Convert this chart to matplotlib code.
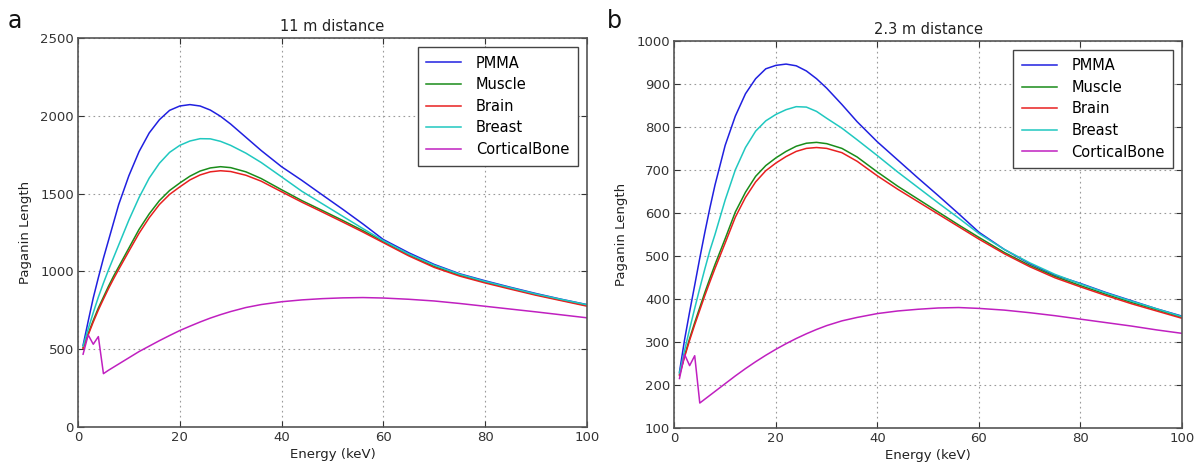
import matplotlib
matplotlib.use("Agg")
import matplotlib.pyplot as plt

energy = [1, 2, 3, 4, 5, 6, 7, 8, 10, 12, 14, 16, 18, 20, 22, 24, 26, 28, 30, 33,
          36, 40, 44, 48, 52, 56, 60, 65, 70, 75, 80, 85, 90, 95, 100]

# Panel a: 11 m distance
pmma_a = [525, 680, 830, 960, 1085, 1200, 1315, 1430, 1615, 1770, 1890, 1975, 2035, 2063, 2072, 2063, 2037, 1997, 1947, 1862,
          1777, 1673, 1585, 1492, 1400, 1305, 1205, 1120, 1045, 985, 940, 898, 858, 821, 787]
muscle_a = [510, 600, 685, 765, 835, 905, 970, 1030, 1150, 1270, 1370, 1455, 1520, 1568, 1612, 1645, 1665, 1673, 1667, 1640,
            1597, 1525, 1455, 1392, 1328, 1262, 1192, 1107, 1032, 976, 931, 891, 851, 816, 781]
brain_a = [505, 592, 675, 752, 822, 890, 953, 1013, 1130, 1245, 1345, 1430, 1495, 1543, 1588, 1620, 1640, 1647, 1642, 1618,
           1580, 1512, 1445, 1382, 1318, 1253, 1185, 1100, 1026, 970, 926, 886, 847, 812, 777]
breast_a = [520, 630, 735, 835, 925, 1010, 1090, 1170, 1330, 1475, 1600, 1695, 1765, 1810, 1838, 1853, 1852, 1836, 1810, 1760,
            1700, 1608, 1515, 1435, 1355, 1275, 1198, 1112, 1040, 982, 936, 895, 855, 820, 786]
bone_a = [468, 592, 532, 581, 343, 365, 385, 405, 445, 485, 520, 555, 588, 620, 648, 675, 700, 722, 742, 768,
          787, 805, 817, 825, 830, 832, 829, 821, 810, 794, 776, 758, 740, 721, 702]

# Panel b: 2.3 m distance
pmma_b = [230, 305, 370, 432, 495, 555, 612, 665, 757, 825, 877, 912, 935, 943, 946, 942, 930, 912, 890, 852,
          812, 765, 723, 681, 640, 598, 555, 515, 482, 455, 436, 415, 396, 377, 360]
muscle_b = [225, 268, 308, 345, 380, 415, 448, 480, 540, 602, 648, 685, 710, 728, 743, 755, 762, 764, 761, 750,
            730, 695, 662, 632, 602, 572, 543, 508, 478, 452, 431, 411, 392, 375, 357]
brain_b = [222, 265, 304, 340, 374, 408, 440, 471, 530, 590, 636, 672, 698, 716, 731, 743, 750, 752, 750, 740,
           720, 686, 655, 626, 597, 568, 539, 505, 475, 449, 428, 408, 389, 372, 355]
breast_b = [228, 280, 330, 378, 425, 470, 513, 550, 630, 700, 752, 790, 814, 829, 840, 847, 846, 836, 820, 797,
            770, 733, 695, 659, 623, 588, 552, 515, 484, 457, 435, 414, 395, 377, 359]
bone_b = [215, 271, 245, 268, 158, 167, 176, 185, 203, 221, 238, 254, 269, 283, 296, 308, 319, 329, 338, 349,
          357, 366, 372, 376, 379, 380, 378, 374, 368, 361, 353, 345, 337, 328, 320]

labels = ["PMMA", "Muscle", "Brain", "Breast", "CorticalBone"]
colors = ["#2020e0", "#1a8c1a", "#e82020", "#20c8c0", "#c020c0"]

plt.rcParams['font.family'] = ['DejaVu Sans']

fig = plt.figure(figsize=(12, 4.75), dpi=100)
ax_a = fig.add_axes([0.065, 0.101, 0.424, 0.819])
ax_b = fig.add_axes([0.562, 0.099, 0.423, 0.815])

panels = [
    (ax_a, [pmma_a, muscle_a, brain_a, breast_a, bone_a], "11 m distance", (0, 2500), 500, "a", 0.006),
    (ax_b, [pmma_b, muscle_b, brain_b, breast_b, bone_b], "2.3 m distance", (100, 1000), 100, "b", 0.506),
]

for ax, series, title, ylim, ystep, letter, lx in panels:
    for vals, lab, col in zip(series, labels, colors):
        ax.plot(energy, vals, color=col, lw=1.1, label=lab)
    ax.set_xlim(0, 100)
    ax.set_ylim(*ylim)
    ax.set_xticks(range(0, 101, 20))
    ax.set_yticks(range(ylim[0], ylim[1] + 1, ystep))
    ax.grid(True, color="#9a9a9a", linestyle=(0, (1.5, 3)), linewidth=0.8)
    ax.tick_params(direction="in", top=True, right=True, length=4, width=0.8,
                   labelsize=9.5, colors="#333333", pad=3)
    for sp in ax.spines.values():
        sp.set_color("#555555")
        sp.set_linewidth(1.2)
    ax.set_xlabel("Energy (keV)", fontsize=9.5, color="#222222", labelpad=3)
    ax.set_ylabel("Paganin Length", fontsize=9.5, color="#222222", labelpad=6)
    ax.set_title(title, fontsize=10.5, color="#222222", pad=5)
    leg = ax.legend(loc="upper right", fontsize=10.5, fancybox=False, framealpha=1,
                    edgecolor="#444444", borderpad=0.6, labelspacing=0.45,
                    handlelength=2.4, handletextpad=1.0, borderaxespad=0.6)
    leg.get_frame().set_linewidth(1.0)
    fig.text(lx, 0.955, letter, fontsize=17, va="center", ha="left", color="#111111")

fig.savefig("out.png", dpi=100, facecolor="white")
